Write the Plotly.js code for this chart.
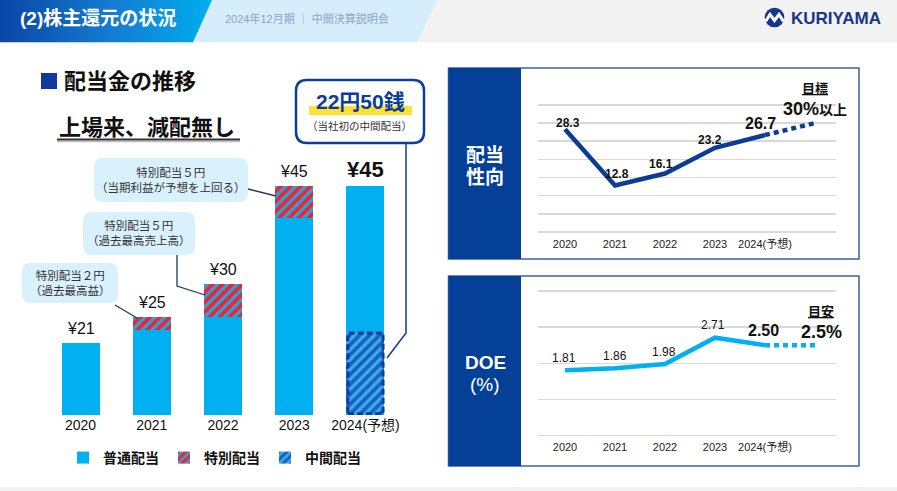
<!DOCTYPE html>
<html><head><meta charset="utf-8">
<script src="https://cdn.plot.ly/plotly-3.0.1.min.js"></script>
<style>html,body{margin:0;padding:0;background:#fff;overflow:hidden}#chart{width:897px;height:491px}</style>
</head><body><div id="chart"></div>
<script>
// ---------- data ----------
const years = ['2020', '2021', '2022', '2023', '2024(予想)'];
const regularDiv = [21, 23, 25, 40, 22.5];
const specialDiv = [null, 2, 5, 5, null];
const interimDiv = [null, null, null, null, 22.5];
const payoutRatio = [28.3, 12.8, 16.1, 23.2, 26.7];
const payoutTarget = 30;
const doe = [1.81, 1.86, 1.98, 2.71, 2.50];
const doeTarget = 2.5;
const legendNames = ['普通配当', '特別配当', '中間配当'];

// ---------- helpers ----------
const W = 897, H = 491;
const JP = 'Liberation Sans, Noto Sans CJK JP, sans-serif';
const px = x => x / W, py = y => 1 - y / H;
const P = (x, y) => px(x).toFixed(5) + ',' + py(y).toFixed(5);
const shapes = [], anns = [];
function rect(x0, y0, x1, y1, fill, line, layer) {
  shapes.push({type: 'rect', xref: 'paper', yref: 'paper', x0: px(x0), x1: px(x1), y0: py(y1), y1: py(y0),
    fillcolor: fill, line: line || {width: 0}, layer: layer || 'below'});
}
function path(d, fill, line, layer) {
  shapes.push({type: 'path', xref: 'paper', yref: 'paper', path: d, fillcolor: fill, line: line || {width: 0}, layer: layer || 'below'});
}
function poly(pts, close) {
  return 'M' + pts.map(p => P(p[0], p[1])).join(' L') + (close ? ' Z' : '');
}
function rr(x0, y0, x1, y1, r) {
  return `M${P(x0 + r, y0)} L${P(x1 - r, y0)} Q${P(x1, y0)} ${P(x1, y0 + r)} L${P(x1, y1 - r)} Q${P(x1, y1)} ${P(x1 - r, y1)} L${P(x0 + r, y1)} Q${P(x0, y1)} ${P(x0, y1 - r)} L${P(x0, y0 + r)} Q${P(x0, y0)} ${P(x0 + r, y0)} Z`;
}
function txt(text, x, y, font, opts) {
  anns.push(Object.assign({xref: 'paper', yref: 'paper', x: px(x), y: py(y), text: text, showarrow: false,
    xanchor: 'center', yanchor: 'middle', font: Object.assign({family: JP, color: '#111'}, font)}, opts || {}));
}

// ---------- header ----------
rect(0, 0, W, 42.3, '#f2f2f2');
path(poly([[212, 0], [437, 0], [417, 42.3], [193, 42.3]], true), '#d6edfb');
rect(0, 486.7, W, H, '#f2f2f2');
txt('<b>(2)株主還元の状況</b>', 18, 19, {size: 19, color: '#ffffff'}, {xanchor: 'left'});
txt('2024年12月期 ｜ 中間決算説明会', 223, 18, {size: 11, color: '#8ba3c8'}, {xanchor: 'left'});
// logo
shapes.push({type: 'circle', xref: 'paper', yref: 'paper', x0: px(764.7), x1: px(784.3), y0: py(27.3), y1: py(7.7),
  fillcolor: '#17358a', line: {width: 0}, layer: 'above'});
path(poly([[765.5, 21.5], [770, 14.5], [774.5, 20.5], [779, 14.5], [783.5, 21.5]]), 'rgba(0,0,0,0)', {color: '#ffffff', width: 3}, 'above');
txt('<b>KURIYAMA</b>', 789, 18, {size: 17, color: '#17358a', family: 'Liberation Sans, sans-serif'}, {xanchor: 'left'});

// ---------- left headings ----------
rect(41, 73, 57, 89, '#1237a0');
txt('<b>配当金の推移</b>', 62, 81, {size: 22}, {xanchor: 'left'});
txt('<b>上場来、減配無し</b>', 57, 128, {size: 22}, {xanchor: 'left'});
path(poly([[57, 141.5], [240, 141.5]]), 'rgba(0,0,0,0)', {color: '#bdbdbd', width: 1.5});
path(poly([[57, 139.5], [240, 139.5]]), 'rgba(0,0,0,0)', {color: '#333333', width: 1.8});

// ---------- callouts ----------
const cb = '#d9f1fc', conn = {color: '#1f3864', width: 1.3};
path(rr(22, 263, 118, 303, 9), cb);
txt('特別配当２円<br>（過去最高益）', 70, 283, {size: 11.5, color: '#333'});
path(poly([[115, 305], [137, 318]]), 'rgba(0,0,0,0)', conn, 'above');
path(rr(83, 212, 195, 255, 9), cb);
txt('特別配当５円<br>（過去最高売上高）', 139, 233, {size: 11.5, color: '#333'});
path(poly([[177, 255], [177, 286], [205, 295]]), 'rgba(0,0,0,0)', conn, 'above');
path(rr(94, 158, 248, 202, 9), cb);
txt('特別配当５円<br>（当期利益が予想を上回る）', 171, 180, {size: 11.5, color: '#333'});
path(poly([[248, 189], [276, 196]]), 'rgba(0,0,0,0)', conn, 'above');
// interim callout
path(rr(296, 80, 424, 143, 11), '#ffffff', {color: '#0b3d99', width: 2.5});
rect(309, 106, 412, 115, '#ffe033');
txt('<b>22円50銭</b>', 360, 102, {size: 21, color: '#0b3d99'});
txt('（当社初の中間配当）', 359, 126, {size: 10.5, color: '#333'});
path(poly([[406, 144], [406, 333], [387, 358]]), 'rgba(0,0,0,0)', {color: '#0b3d99', width: 1.5}, 'above');

// ---------- right panels ----------
const navy = '#043f98';
rect(448.5, 68, 859, 259, '#ffffff', {color: '#3b5fad', width: 1.5});
rect(448.5, 68, 521, 259, navy);
txt('<b>配当</b>', 485, 155, {size: 19, color: '#fff'});
txt('<b>性向</b>', 485, 177, {size: 19, color: '#fff'});
rect(448.5, 276, 859, 466, '#ffffff', {color: '#3b5fad', width: 1.5});
rect(448.5, 276, 521, 466, navy);
txt('<b>DOE</b>', 485, 362, {size: 19, color: '#fff'});
txt('(%)', 485, 384, {size: 19, color: '#fff'});

// ---------- bar chart ----------
const yMin = 10;
const total = years.map((_, i) => (regularDiv[i] || 0) + (specialDiv[i] || 0) + (interimDiv[i] || 0));
const barW = 0.533;
const traces = [];
// header gradient on overlay axes (drawn first, underneath)
traces.push({type: 'scatter', x: [0, 212, 193, 0, 0], y: [0, 0, 42.3, 42.3, 0], mode: 'lines', fill: 'toself',
  line: {width: 0}, fillgradient: {type: 'horizontal', colorscale: [[0, '#0a45a6'], [0.5, '#1479cf'], [1, '#00aeef']]},
  xaxis: 'x', yaxis: 'y', hoverinfo: 'skip', showlegend: false});
traces.push({type: 'bar', name: legendNames[2], x: years, y: interimDiv, xaxis: 'x2', yaxis: 'y2', legendrank: 3,
  marker: {color: '#1d5fbf', line: {width: 0}, pattern: {shape: '/', fgcolor: '#35b2ee', bgcolor: '#1d5fbf', size: 7, solidity: 0.45}}, hoverinfo: 'skip'});
traces.push({type: 'bar', name: legendNames[0], x: years, y: regularDiv, xaxis: 'x2', yaxis: 'y2', legendrank: 1,
  marker: {color: '#00b0f0', line: {width: 0}}, hoverinfo: 'skip'});
traces.push({type: 'bar', name: legendNames[1], x: years, y: specialDiv, xaxis: 'x2', yaxis: 'y2', legendrank: 2,
  marker: {color: '#ea2530', line: {width: 0}, pattern: {shape: '/', fgcolor: '#2aa3e0', bgcolor: '#ea2530', size: 7, solidity: 0.45}}, hoverinfo: 'skip'});
interimDiv.forEach((v, i) => {
  if (v) shapes.push({type: 'rect', xref: 'x2', yref: 'y2', x0: i - barW / 2 + 0.02, x1: i + barW / 2 - 0.02, y0: yMin + 0.2, y1: v,
    line: {color: '#0b3d99', width: 3, dash: '6px,3px'}, fillcolor: 'rgba(0,0,0,0)', layer: 'above'});
});
total.forEach((t, i) => {
  const last = i === years.length - 1;
  anns.push({xref: 'x2', yref: 'y2', x: i, y: t, text: last ? '<b>¥' + t + '</b>' : '¥' + t, showarrow: false,
    yanchor: 'bottom', yshift: last ? 2 : 4, font: {family: JP, size: last ? 22 : 16, color: '#111'}});
});

// ---------- payout ratio line ----------
const idx = years.map((_, i) => i);
const last = years.length - 1;
traces.push({type: 'scatter', mode: 'lines', x: idx, y: payoutRatio, xaxis: 'x3', yaxis: 'y3',
  line: {color: '#0d3c94', width: 4.5}, showlegend: false, hoverinfo: 'skip'});
traces.push({type: 'scatter', mode: 'lines', x: [last, last + 1], y: [payoutRatio[last], payoutTarget], xaxis: 'x3', yaxis: 'y3',
  line: {color: '#0d3c94', width: 4.5, dash: '5px,4px'}, showlegend: false, hoverinfo: 'skip'});
const payShift = [[3, 6], [2, 12], [-4, 10], [-5, 8], [-5, 12]];
payoutRatio.forEach((v, i) => {
  const big = i === last;
  anns.push({xref: 'x3', yref: 'y3', x: i, y: v, text: '<b>' + v.toFixed(1) + '</b>', showarrow: false,
    xshift: payShift[i][0], yshift: payShift[i][1], font: {family: JP, size: big ? 16 : 12, color: '#111'}});
});
anns.push({xref: 'x3', yref: 'y3', x: last + 1, y: payoutTarget, text: '<b><u>目標</u></b>', showarrow: false, yshift: 35,
  font: {family: JP, size: 13, color: '#111'}});
anns.push({xref: 'x3', yref: 'y3', x: last + 1, y: payoutTarget, showarrow: false, yshift: 14,
  text: '<b><span style="font-size:18px">' + payoutTarget + '%</span>以上</b>', font: {family: JP, size: 14, color: '#111'}});

// ---------- DOE line ----------
traces.push({type: 'scatter', mode: 'lines', x: idx, y: doe, xaxis: 'x4', yaxis: 'y4',
  line: {color: '#00b0f0', width: 4.5}, showlegend: false, hoverinfo: 'skip'});
traces.push({type: 'scatter', mode: 'lines', x: [last, last + 1], y: [doe[last], doeTarget], xaxis: 'x4', yaxis: 'y4',
  line: {color: '#00b0f0', width: 4.5, dash: '5px,4px'}, showlegend: false, hoverinfo: 'skip'});
const doeShift = [[-1, 12], [0, 12], [-1, 12], [-2, 13], [-2, 15]];
doe.forEach((v, i) => {
  const big = i === last;
  anns.push({xref: 'x4', yref: 'y4', x: i, y: v, text: big ? '<b>' + v.toFixed(2) + '</b>' : v.toFixed(2), showarrow: false,
    xshift: doeShift[i][0], yshift: doeShift[i][1], font: {family: JP, size: big ? 16 : 12, color: '#111'}});
});
anns.push({xref: 'x4', yref: 'y4', x: last + 1, y: doeTarget, text: '<b><u>目安</u></b>', showarrow: false, xshift: 6, yshift: 34,
  font: {family: JP, size: 13, color: '#111'}});
anns.push({xref: 'x4', yref: 'y4', x: last + 1, y: doeTarget, text: '<b>' + doeTarget + '%</b>', showarrow: false, xshift: 6, yshift: 13,
  font: {family: JP, size: 18, color: '#111'}});

// ---------- layout ----------
const xr = [(538 - 565) / 50, (836 - 565) / 50];
const hidden = {visible: false, fixedrange: true};
const layout = {
  width: W, height: H, margin: {l: 0, r: 0, t: 0, b: 0},
  paper_bgcolor: '#ffffff', plot_bgcolor: 'rgba(0,0,0,0)',
  hovermode: false, barmode: 'stack', bargap: 1 - barW,
  showlegend: true,
  legend: {orientation: 'h', traceorder: 'normal', x: px(63), y: py(458), xanchor: 'left', yanchor: 'middle', bgcolor: 'rgba(0,0,0,0)',
    font: {family: JP, size: 14, color: '#111', weight: 'bold'}},
  xaxis: Object.assign({domain: [0, 1], range: [0, W]}, hidden),
  yaxis: Object.assign({domain: [0, 1], range: [H, 0]}, hidden),
  xaxis2: {domain: [px(44.9), px(401.1)], anchor: 'y2', type: 'category', range: [-0.5, 4.5], showgrid: false,
    zeroline: false, showline: false, ticks: '', tickfont: {family: JP, size: 14, color: '#111'}, fixedrange: true},
  yaxis2: Object.assign({domain: [py(415), py(150)], anchor: 'x2', range: [yMin, yMin + 265 / 6.554]}, hidden),
  xaxis3: {domain: [px(538), px(836)], anchor: 'y3', range: xr, tickvals: idx, ticktext: years, showgrid: false,
    zeroline: false, showline: false, ticks: '', tickfont: {family: JP, size: 11, color: '#222'}, fixedrange: true},
  yaxis3: {domain: [py(235.6), py(101.3)], anchor: 'x3', range: [-1, 36], tick0: 0, dtick: 5, showticklabels: false,
    gridcolor: '#d9d9d9', gridwidth: 1.5, zeroline: true, zerolinecolor: '#d9d9d9', zerolinewidth: 1.5, fixedrange: true},
  xaxis4: {domain: [px(538), px(836)], anchor: 'y4', range: xr, tickvals: idx, ticktext: years, showgrid: false,
    zeroline: false, showline: false, ticks: '', tickfont: {family: JP, size: 11, color: '#222'}, fixedrange: true},
  yaxis4: {domain: [py(439.1), py(287.5)], anchor: 'x4', range: [-0.1, 4.1], tick0: 0, dtick: 1, showticklabels: false,
    gridcolor: '#d9d9d9', gridwidth: 1.5, zeroline: true, zerolinecolor: '#d9d9d9', zerolinewidth: 1.5, fixedrange: true},
  shapes: shapes, annotations: anns
};
Plotly.newPlot('chart', traces, layout, {staticPlot: true, displayModeBar: false});
</script></body></html>
